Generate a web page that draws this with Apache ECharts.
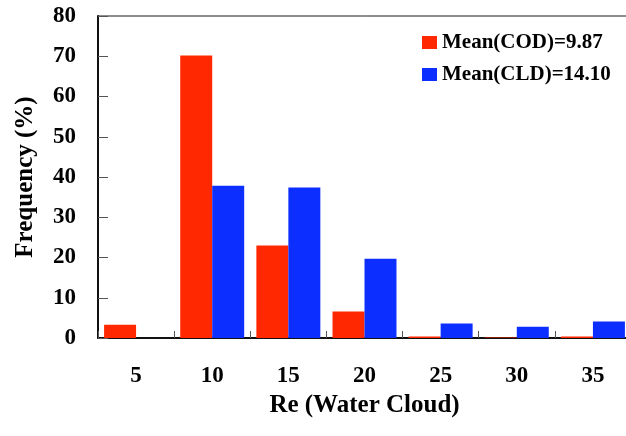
<!DOCTYPE html>
<html>
<head>
<meta charset="utf-8">
<script src="https://cdn.jsdelivr.net/npm/echarts@6/dist/echarts.min.js"></script>
<style>
html, body { margin: 0; padding: 0; background: #fff; }
#chart { width: 626px; height: 436px; }
</style>
</head>
<body>
<div id="chart"></div>
<script>
// Effective radius bins (µm)
const categories = ['5', '10', '15', '20', '25', '30', '35'];
// Frequency (%) of each bin
const codValues = [3.3, 70.2, 23.0, 6.6, 0.4, 0.1, 0.4];
const cldValues = [0, 37.8, 37.4, 19.7, 3.6, 2.8, 4.1];
const seriesNames = ['Mean(COD)=9.87', 'Mean(CLD)=14.10'];
const yMin = 0, yMax = 80, yStep = 10;

const font = '"Liberation Serif", "Times New Roman", serif';
const chart = echarts.init(document.getElementById('chart'), null, { renderer: 'canvas' });

chart.setOption({
  animation: false,
  backgroundColor: '#ffffff',
  textStyle: { fontFamily: font, color: '#000' },
  grid: {
    left: 98, right: -5, top: 16, bottom: 98,
    show: true, borderColor: '#1a1a1a', borderWidth: 1,
    containLabel: false,
    outerBoundsMode: 'none'
  },
  legend: {
    orient: 'vertical',
    left: 422, top: 32,
    padding: 0,
    itemWidth: 15, itemHeight: 13, itemGap: 11,
    icon: 'rect',
    textStyle: { fontFamily: font, fontWeight: 'bold', fontSize: 21, color: '#000' },
    data: seriesNames
  },
  xAxis: {
    type: 'category',
    data: categories,
    name: 'Re (Water Cloud)',
    nameLocation: 'middle',
    nameGap: 43,
    nameTextStyle: { fontFamily: font, fontWeight: 'bold', fontSize: 25, color: '#000' },
    axisLine: { lineStyle: { color: '#111', width: 2 } },
    axisTick: { show: true, inside: true, length: 7, lineStyle: { color: '#555', width: 1 } },
    axisLabel: { fontFamily: font, fontWeight: 'bold', fontSize: 23, color: '#000', margin: 27 },
    splitLine: { show: false }
  },
  yAxis: {
    type: 'value',
    min: yMin, max: yMax, interval: yStep,
    name: 'Frequency (%)',
    nameLocation: 'middle',
    nameGap: 60,
    nameRotate: 90,
    nameTextStyle: { fontFamily: font, fontWeight: 'bold', fontSize: 25, color: '#000' },
    axisLine: { show: true, lineStyle: { color: '#111', width: 2 } },
    axisTick: { show: true, inside: true, length: 10, lineStyle: { color: '#555', width: 1 } },
    axisLabel: { fontFamily: font, fontWeight: 'bold', fontSize: 23, color: '#000', margin: 22 },
    splitLine: { show: false }
  },
  series: [
    {
      name: seriesNames[0], type: 'bar', data: codValues,
      itemStyle: { color: '#FF2800' },
      barGap: '0%', barCategoryGap: '16%'
    },
    {
      name: seriesNames[1], type: 'bar', data: cldValues,
      itemStyle: { color: '#0C2EFF' },
      barGap: '0%', barCategoryGap: '16%'
    }
  ]
});
</script>
</body>
</html>
